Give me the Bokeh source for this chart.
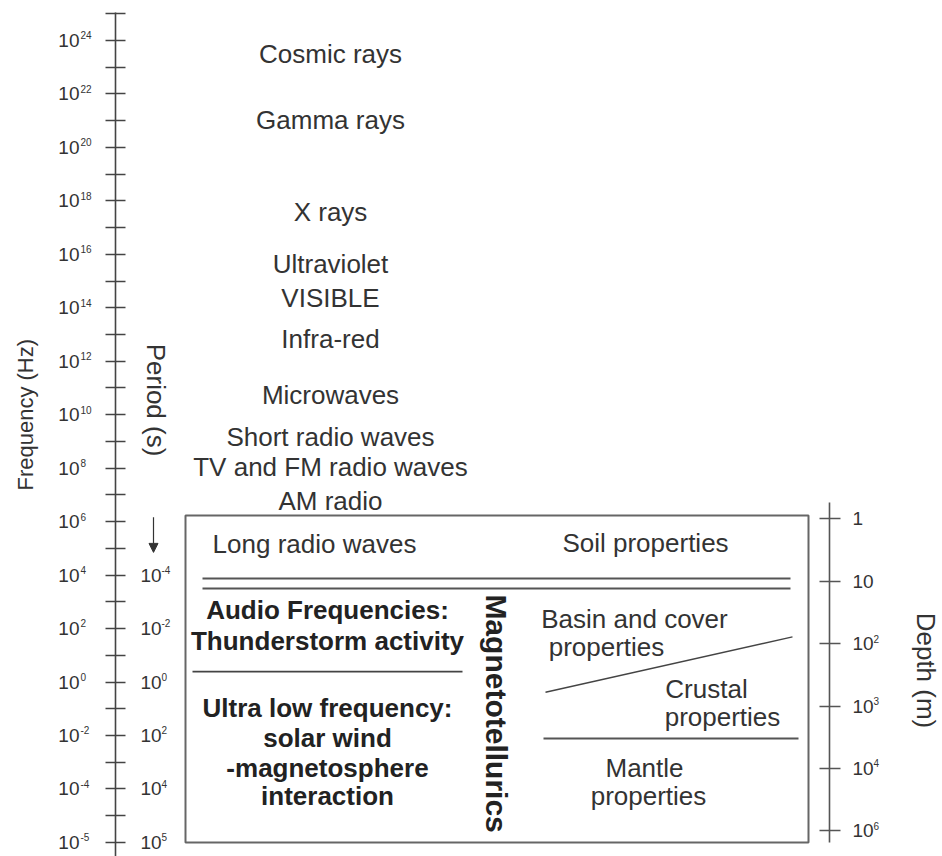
import math
from bokeh.plotting import figure
from bokeh.models import (Range1d, LinearAxis, FixedTicker, ColumnDataSource,
                          LabelSet, Label, Arrow, NormalHead)
from bokeh.embed import file_html
from bokeh.resources import INLINE
from bokeh.core.properties import value

FONT = "Liberation Sans"
TXT = "#333333"
LINE = "#555555"

# ---------------- data ----------------
# Frequency axis (log10 of Hz)
freq_major = [24, 22, 20, 18, 16, 14, 12, 10, 8, 6, 4, 2, 0, -2, -4, -6]
freq_minor = [25, 23, 21, 19, 17, 15, 13, 11, 9, 7, 5, 3, 1, -1, -3, -5]
freq_exp = ["24", "22", "20", "18", "16", "14", "12", "10", "8", "6", "4",
            "2", "0", "-2", "-4", "-5"]

# Period labels (placed at log10 frequency positions)
period_pos = [4, 2, 0, -2, -4, -6]
period_exp = ["-4", "-2", "0", "2", "4", "5"]

# Depth axis (log10 of m)
depth_pos = [0, 1, 2, 3, 4, 5]
depth_base = ["1", "10", "10", "10", "10", "10"]
depth_exp = ["", "", "2", "3", "4", "6"]

# Electromagnetic spectrum bands (label at log10 frequency)
spectrum_names = ["Cosmic rays", "Gamma rays", "X rays", "Ultraviolet",
                  "VISIBLE", "Infra-red", "Microwaves", "Short radio waves",
                  "TV and FM radio waves", "AM radio"]
spectrum_logf = [23.48, 21.01, 17.57, 15.62, 14.35, 12.85, 10.72, 9.15,
                 8.06, 6.79]

# Sources of the MT signal (bold, log10 frequency)
source_lines = ["Audio Frequencies:", "Thunderstorm activity",
                "Ultra low frequency:", "solar wind", "-magnetosphere",
                "interaction"]
source_logf = [2.68, 1.55, -0.99, -2.08, -3.20, -4.25]

# Target properties (log10 depth)
target_lines = ["Soil properties", "Basin and cover", "properties",
                "Crustal", "properties", "Mantle", "properties"]
target_logd = [0.39, 1.60, 2.06, 2.72, 3.18, 3.99, 4.44]
target_x = [645, 634, 606, 706, 722, 644, 648]

# MT box and boundaries
box_logf = (6.23, -6.0)          # top, bottom
band_split_logf = [3.87, 3.50]   # double line (~10^4 Hz)
audio_split_logf = 0.39          # audio / ULF boundary
basin_crust_logd = (2.78, 1.89)  # sloping boundary (left, right)
crust_mantle_logd = 3.52

# ---------------- figure ----------------
W, H = 942, 856
p = figure(width=W, height=H, output_backend="svg", toolbar_location=None,
           x_range=Range1d(0, W), y_range=Range1d(-6.527, 25.496),
           min_border=0, x_axis_location=None, y_axis_location=None)
p.grid.visible = False
p.outline_line_color = None
p.background_fill_color = "white"
p.border_fill_color = "white"
p.extra_y_ranges = {"depth": Range1d(5.414, -8.317)}

# frequency axis
fax = LinearAxis(ticker=FixedTicker(ticks=freq_major, minor_ticks=freq_minor),
                 major_label_overrides={t: "" for t in freq_major},
                 fixed_location=115, bounds=(-7, 25.05))
fax.axis_line_color = "#444444"
fax.axis_line_width = 1.6
fax.major_tick_line_color = "#444444"
fax.major_tick_line_width = 1.6
fax.minor_tick_line_color = "#444444"
fax.minor_tick_line_width = 1.6
fax.major_tick_in = 10
fax.major_tick_out = 10
fax.minor_tick_in = 10
fax.minor_tick_out = 10
fax.major_label_text_font_size = "1px"
p.add_layout(fax, "left")

# depth axis
dax = LinearAxis(y_range_name="depth", ticker=FixedTicker(ticks=depth_pos),
                 major_label_overrides={t: "" for t in depth_pos},
                 fixed_location=829, bounds=(-0.265, 5.19))
dax.axis_line_color = "#555555"
dax.axis_line_width = 1.6
dax.major_tick_line_color = "#555555"
dax.major_tick_line_width = 1.6
dax.minor_tick_line_color = None
dax.major_tick_in = 10
dax.major_tick_out = 11
dax.major_label_text_font_size = "1px"
p.add_layout(dax, "right")

BASE_FS = "19px"
EXP_FS = "10px"

# frequency tick labels
fsrc = ColumnDataSource(dict(x=[79] * len(freq_major), xe=[80] * len(freq_major),
                             y=freq_major, ye=[v + 0.19 for v in freq_major],
                             base=["10"] * len(freq_major), exp=freq_exp))
p.add_layout(LabelSet(x="x", y="y", text="base", source=fsrc, text_align="right",
                      text_baseline="middle", text_font=value(FONT),
                      text_font_size=BASE_FS, text_color=TXT))
p.add_layout(LabelSet(x="xe", y="ye", text="exp", source=fsrc, text_align="left",
                      text_baseline="middle", text_font=value(FONT),
                      text_font_size=EXP_FS, text_color=TXT))

# period labels
psrc = ColumnDataSource(dict(x=[140] * len(period_pos), xe=[161] * len(period_pos),
                             y=period_pos, ye=[v + 0.19 for v in period_pos],
                             base=["10"] * len(period_pos), exp=period_exp))
p.add_layout(LabelSet(x="x", y="y", text="base", source=psrc, text_align="left",
                      text_baseline="middle", text_font=value(FONT),
                      text_font_size=BASE_FS, text_color=TXT))
p.add_layout(LabelSet(x="xe", y="ye", text="exp", source=psrc, text_align="left",
                      text_baseline="middle", text_font=value(FONT),
                      text_font_size=EXP_FS, text_color=TXT))

# depth labels (depth axis runs downward, so "up" is a smaller log depth)
dsrc = ColumnDataSource(dict(x=[852] * len(depth_pos), xe=[873] * len(depth_pos),
                             y=depth_pos, ye=[v - 0.08 for v in depth_pos],
                             base=depth_base, exp=depth_exp))
p.add_layout(LabelSet(x="x", y="y", text="base", source=dsrc, y_range_name="depth",
                      text_align="left", text_baseline="middle", text_font=value(FONT),
                      text_font_size=BASE_FS, text_color=TXT))
p.add_layout(LabelSet(x="xe", y="ye", text="exp", source=dsrc, y_range_name="depth",
                      text_align="left", text_baseline="middle", text_font=value(FONT),
                      text_font_size=EXP_FS, text_color=TXT))

# axis titles
p.add_layout(Label(x=25, y=10.0, text="Frequency (Hz)", angle=math.pi / 2,
                   text_align="center", text_baseline="middle", text_font=FONT,
                   text_font_size="22px", text_color=TXT))
p.add_layout(Label(x=155, y=10.55, text="Period (s)", angle=-math.pi / 2,
                   text_align="center", text_baseline="middle", text_font=FONT,
                   text_font_size="26px", text_color=TXT))
p.add_layout(Label(x=925, y=2.43, y_range_name="depth", text="Depth (m)",
                   angle=-math.pi / 2, text_align="center", text_baseline="middle",
                   text_font=FONT, text_font_size="26px", text_color=TXT))

# period arrow
p.add_layout(Arrow(x_start=153, y_start=6.16, x_end=153, y_end=4.85,
                   line_color="#333333", line_width=1.2,
                   end=NormalHead(size=9, fill_color="#333333", line_color="#333333")))

# spectrum labels
p.text(x=[330] * len(spectrum_names), y=spectrum_logf, text=spectrum_names,
       text_align="center", text_baseline="middle", text_font=value(FONT),
       text_font_size="26px", text_color=TXT)
p.text(x=[314], y=[5.18], text=["Long radio waves"], text_align="center",
       text_baseline="middle", text_font=value(FONT), text_font_size="26px",
       text_color=TXT)

# MT box
p.quad(left=[185], right=[808], top=[box_logf[0]], bottom=[box_logf[1]],
       fill_color=None, line_color="#666666", line_width=2)
p.segment(x0=[202, 202], x1=[790, 790], y0=band_split_logf, y1=band_split_logf,
          line_color=LINE, line_width=2)
p.segment(x0=[192], x1=[462], y0=[audio_split_logf], y1=[audio_split_logf],
          line_color="#444444", line_width=1.6)
p.segment(x0=[545], x1=[792], y0=[basin_crust_logd[0]], y1=[basin_crust_logd[1]],
          y_range_name="depth", line_color="#444444", line_width=1.4)
p.segment(x0=[543], x1=[798], y0=[crust_mantle_logd], y1=[crust_mantle_logd],
          y_range_name="depth", line_color=LINE, line_width=2)

# sources (bold)
p.text(x=[327] * len(source_lines), y=source_logf, text=source_lines,
       text_align="center", text_baseline="middle", text_font=value(FONT),
       text_font_size="26px", text_font_style="bold", text_color="#222222")

p.text(x=[496], y=[-1.18], text=["Magnetotellurics"], angle=-math.pi / 2,
       text_align="center", text_baseline="middle", text_font=value(FONT),
       text_font_size="30px", text_font_style="bold", text_color="#222222")

# targets
p.text(x=target_x, y=target_logd, text=target_lines, y_range_name="depth",
       text_align="center", text_baseline="middle", text_font=value(FONT),
       text_font_size="26px", text_color=TXT)

open("out.html", "w").write(file_html(p, INLINE))
